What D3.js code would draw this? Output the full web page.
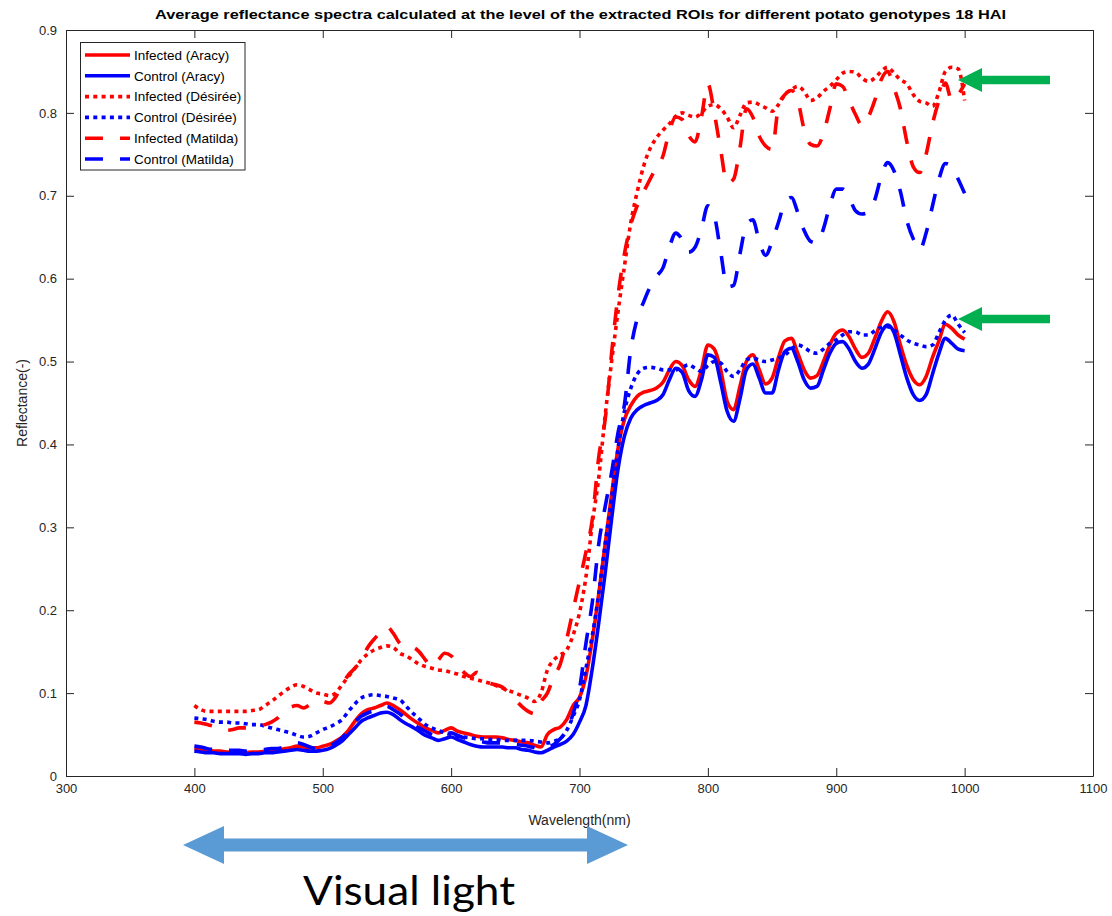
<!DOCTYPE html>
<html>
<head>
<meta charset="utf-8">
<script src="https://cdn.jsdelivr.net/npm/d3@7"></script>
<style>
body { margin: 0; background: #fff; }
</style>
</head>
<body>
<div id="chart"></div>
<script>
// wavelength grid (nm), 5 nm step
var wavelengths = d3.range(400, 1001, 5);

var infAracy = [
  0.033,0.032,0.031,0.030,0.030,0.029,0.029,0.028,0.028,0.029,0.029,0.030,0.031,0.031,0.033,0.034,0.036,0.035,0.034,0.034,
  0.036,0.038,0.042,0.047,0.055,0.066,0.075,0.080,0.082,0.085,0.088,0.085,0.080,0.074,0.068,0.063,0.058,0.055,0.052,0.055,
  0.058,0.054,0.052,0.050,0.048,0.047,0.047,0.047,0.046,0.044,0.043,0.041,0.040,0.037,0.035,0.050,0.056,0.059,0.068,0.085,
  0.095,0.120,0.165,0.220,0.280,0.340,0.395,0.430,0.447,0.458,0.463,0.465,0.468,0.475,0.490,0.500,0.495,0.478,0.470,0.490,
  0.520,0.515,0.490,0.452,0.442,0.470,0.500,0.508,0.490,0.473,0.480,0.505,0.525,0.528,0.510,0.490,0.480,0.483,0.500,0.520,
  0.534,0.538,0.530,0.515,0.505,0.510,0.528,0.548,0.560,0.548,0.520,0.495,0.478,0.472,0.482,0.505,0.525,0.545,0.540,0.532,
  0.527];

var ctrlAracy = [
  0.030,0.029,0.028,0.028,0.027,0.027,0.027,0.027,0.026,0.027,0.027,0.028,0.028,0.029,0.030,0.031,0.032,0.031,0.030,0.030,
  0.031,0.033,0.037,0.042,0.050,0.058,0.066,0.070,0.073,0.076,0.077,0.074,0.068,0.063,0.059,0.054,0.049,0.046,0.043,0.045,
  0.047,0.044,0.041,0.038,0.036,0.035,0.035,0.035,0.035,0.034,0.034,0.032,0.031,0.029,0.028,0.031,0.035,0.038,0.042,0.050,
  0.065,0.085,0.130,0.185,0.245,0.310,0.370,0.410,0.432,0.442,0.447,0.450,0.453,0.460,0.478,0.492,0.487,0.465,0.458,0.478,
  0.508,0.505,0.475,0.440,0.428,0.455,0.490,0.497,0.480,0.462,0.462,0.490,0.512,0.516,0.500,0.478,0.468,0.470,0.490,0.510,
  0.522,0.524,0.515,0.500,0.492,0.497,0.515,0.535,0.544,0.535,0.508,0.480,0.460,0.453,0.460,0.485,0.510,0.528,0.522,0.515,
  0.513];

var infDesiree = [
  0.085,0.080,0.078,0.078,0.078,0.078,0.078,0.078,0.078,0.079,0.080,0.085,0.090,0.096,0.102,0.107,0.110,0.108,0.104,0.100,
  0.099,0.097,0.100,0.110,0.120,0.130,0.140,0.147,0.152,0.155,0.157,0.155,0.148,0.145,0.140,0.135,0.132,0.130,0.128,0.127,
  0.125,0.123,0.120,0.118,0.116,0.114,0.112,0.109,0.106,0.103,0.100,0.097,0.094,0.090,0.100,0.128,0.140,0.146,0.152,0.170,
  0.197,0.240,0.305,0.360,0.435,0.500,0.560,0.615,0.668,0.705,0.736,0.757,0.770,0.779,0.787,0.796,0.800,0.797,0.795,0.800,
  0.808,0.810,0.805,0.795,0.782,0.797,0.812,0.813,0.810,0.806,0.802,0.810,0.822,0.828,0.832,0.826,0.815,0.818,0.826,0.832,
  0.840,0.848,0.850,0.849,0.842,0.838,0.842,0.850,0.855,0.848,0.840,0.835,0.822,0.814,0.812,0.808,0.825,0.850,0.855,0.853,
  0.815];

var ctrlDesiree = [
  0.070,0.069,0.068,0.066,0.065,0.065,0.064,0.064,0.063,0.062,0.062,0.060,0.058,0.056,0.054,0.052,0.049,0.047,0.048,0.052,
  0.056,0.059,0.063,0.068,0.078,0.087,0.094,0.097,0.098,0.097,0.096,0.094,0.092,0.084,0.076,0.069,0.062,0.058,0.055,0.052,
  0.050,0.048,0.047,0.046,0.045,0.045,0.044,0.044,0.043,0.043,0.043,0.043,0.043,0.042,0.041,0.040,0.042,0.045,0.055,0.072,
  0.092,0.130,0.170,0.220,0.280,0.335,0.395,0.440,0.468,0.485,0.492,0.493,0.492,0.490,0.490,0.490,0.493,0.496,0.492,0.488,
  0.495,0.500,0.498,0.488,0.482,0.490,0.502,0.504,0.502,0.500,0.502,0.504,0.508,0.515,0.520,0.517,0.512,0.510,0.515,0.522,
  0.526,0.532,0.536,0.536,0.532,0.532,0.537,0.541,0.542,0.538,0.532,0.526,0.522,0.520,0.518,0.520,0.535,0.550,0.556,0.545,
  0.535];

var infMatilda = [
  0.065,0.064,0.062,0.060,0.057,0.055,0.056,0.058,0.058,0.059,0.060,0.062,0.065,0.070,0.078,0.083,0.085,0.082,0.086,0.090,
  0.090,0.088,0.095,0.110,0.122,0.130,0.140,0.155,0.165,0.173,0.180,0.172,0.160,0.155,0.155,0.150,0.140,0.132,0.140,0.148,
  0.145,0.135,0.125,0.120,0.125,0.118,0.112,0.110,0.107,0.100,0.092,0.084,0.078,0.075,0.090,0.100,0.120,0.135,0.165,0.200,
  0.235,0.270,0.310,0.385,0.430,0.510,0.580,0.630,0.665,0.688,0.705,0.720,0.735,0.748,0.778,0.795,0.792,0.773,0.765,0.795,
  0.835,0.800,0.755,0.715,0.720,0.758,0.805,0.795,0.772,0.760,0.756,0.808,0.822,0.827,0.815,0.780,0.762,0.760,0.775,0.805,
  0.835,0.832,0.815,0.798,0.785,0.795,0.815,0.840,0.850,0.830,0.805,0.765,0.735,0.728,0.750,0.787,0.815,0.836,0.815,0.822,
  0.835];

var ctrlMatilda = [
  0.036,0.035,0.033,0.032,0.032,0.031,0.031,0.031,0.030,0.031,0.031,0.032,0.033,0.033,0.035,0.037,0.040,0.038,0.035,0.033,
  0.034,0.036,0.040,0.046,0.055,0.065,0.072,0.076,0.079,0.082,0.084,0.080,0.075,0.068,0.063,0.058,0.054,0.050,0.048,0.050,
  0.052,0.049,0.046,0.044,0.042,0.041,0.040,0.040,0.040,0.039,0.038,0.037,0.036,0.034,0.032,0.035,0.038,0.045,0.055,0.075,
  0.105,0.160,0.210,0.280,0.325,0.366,0.414,0.448,0.515,0.552,0.572,0.590,0.603,0.613,0.638,0.655,0.647,0.632,0.638,0.660,
  0.688,0.676,0.632,0.590,0.592,0.630,0.665,0.671,0.645,0.628,0.645,0.668,0.692,0.698,0.680,0.658,0.645,0.643,0.660,0.688,
  0.708,0.708,0.698,0.682,0.678,0.680,0.695,0.723,0.740,0.730,0.705,0.670,0.648,0.635,0.655,0.688,0.720,0.739,0.735,0.720,
  0.703];

var seriesNames = ["Infected (Aracy)", "Control (Aracy)", "Infected (D\u00e9sir\u00e9e)",
                   "Control (D\u00e9sir\u00e9e)", "Infected (Matilda)", "Control (Matilda)"];
var seriesValues = [infAracy, ctrlAracy, infDesiree, ctrlDesiree, infMatilda, ctrlMatilda];
var seriesColors = ["#ff0000", "#0000ff", "#ff0000", "#0000ff", "#ff0000", "#0000ff"];
var seriesDash = [null, null, "4,4.3", "4,4.3", "18,17", "18,17"];

var xTicks = [300, 400, 500, 600, 700, 800, 900, 1000, 1100];
var yTicks = [0, 0.1, 0.2, 0.3, 0.4, 0.5, 0.6, 0.7, 0.8, 0.9];

var svgW = 1112, svgH = 916;
var plotL = 66, plotR = 1093, plotT = 30, plotB = 776;
var axisColor = "#262626";
var font = "'Liberation Sans', Arial, Helvetica, sans-serif";

var svg = d3.select("#chart").append("svg")
  .attr("width", svgW)
  .attr("height", svgH)
  .style("display", "block");

var x = d3.scaleLinear().domain([300, 1100]).range([plotL, plotR]);
var y = d3.scaleLinear().domain([0, 0.9]).range([plotB, plotT]);

// spectra
var line = d3.line()
  .x(function(d) { return x(d[0]); })
  .y(function(d) { return y(d[1]); })
  .curve(d3.curveMonotoneX);

var plot = svg.append("g");
for (var s = 0; s < seriesValues.length; s++) {
  var pts = wavelengths.map(function(w, i) { return [w, seriesValues[s][i]]; });
  plot.append("path")
    .datum(pts)
    .attr("d", line)
    .attr("fill", "none")
    .attr("stroke", seriesColors[s])
    .attr("stroke-width", 3.6)
    .attr("stroke-linejoin", "round")
    .attr("stroke-dasharray", seriesDash[s]);
}

// axes (MATLAB style, ticks inside, box on)
function styleAxis(g) {
  g.selectAll("path, line").attr("stroke", axisColor);
  g.selectAll("text").attr("fill", axisColor)
    .style("font-family", font).style("font-size", "13px");
}

svg.append("g")
  .attr("transform", "translate(0," + plotB + ")")
  .call(d3.axisBottom(x).tickValues(xTicks).tickSizeInner(-8).tickSizeOuter(0).tickPadding(8)
    .tickFormat(d3.format("d")))
  .call(styleAxis);

svg.append("g")
  .attr("transform", "translate(0," + plotT + ")")
  .call(d3.axisTop(x).tickValues(xTicks).tickSizeInner(-8).tickSizeOuter(0).tickFormat(""))
  .call(styleAxis);

svg.append("g")
  .attr("transform", "translate(" + plotL + ",0)")
  .call(d3.axisLeft(y).tickValues(yTicks).tickSizeInner(-8).tickSizeOuter(0).tickPadding(9)
    .tickFormat(function(d) { return d === 0 ? "0" : d3.format(".1f")(d); }))
  .call(styleAxis);

svg.append("g")
  .attr("transform", "translate(" + plotR + ",0)")
  .call(d3.axisRight(y).tickValues(yTicks).tickSizeInner(-8).tickSizeOuter(0).tickFormat(""))
  .call(styleAxis);

// title and axis labels
svg.append("text")
  .attr("x", (plotL + plotR) / 2 + 1)
  .attr("y", 19)
  .attr("text-anchor", "middle")
  .attr("textLength", 851)
  .attr("lengthAdjust", "spacingAndGlyphs")
  .style("font-family", font)
  .style("font-size", "12.5px")
  .style("font-weight", "bold")
  .attr("fill", "#000")
  .text("Average reflectance spectra calculated at the level of the extracted ROIs for different potato genotypes 18 HAI");

svg.append("text")
  .attr("x", (plotL + plotR) / 2)
  .attr("y", 825)
  .attr("text-anchor", "middle")
  .style("font-family", font)
  .style("font-size", "14px")
  .attr("fill", axisColor)
  .text("Wavelength(nm)");

svg.append("text")
  .attr("transform", "translate(27," + ((plotT + plotB) / 2) + ") rotate(-90)")
  .attr("text-anchor", "middle")
  .style("font-family", font)
  .style("font-size", "14px")
  .attr("fill", axisColor)
  .text("Reflectance(-)");

// legend
var legend = svg.append("g");
legend.append("rect")
  .attr("x", 80.5).attr("y", 42.5)
  .attr("width", 164.5).attr("height", 127.5)
  .attr("fill", "#fff")
  .attr("stroke", axisColor)
  .attr("stroke-width", 1);

seriesNames.forEach(function(name, i) {
  var ly = 55 + i * 20.8;
  legend.append("line")
    .attr("x1", 85).attr("x2", 130)
    .attr("y1", ly).attr("y2", ly)
    .attr("stroke", seriesColors[i])
    .attr("stroke-width", 3.6)
    .attr("stroke-dasharray", seriesDash[i]);
  legend.append("text")
    .attr("x", 134)
    .attr("y", ly)
    .attr("dy", "0.36em")
    .style("font-family", font)
    .style("font-size", "13.5px")
    .attr("fill", "#000")
    .text(name);
});

// green annotation arrows
var green = "#00b050";
function leftArrow(tipX, cy, tailX) {
  var hl = 24, hh = 12, sh = 4.2;
  var pts = [[tipX, cy], [tipX + hl, cy - hh], [tipX + hl, cy - sh], [tailX, cy - sh],
             [tailX, cy + sh], [tipX + hl, cy + sh], [tipX + hl, cy + hh]];
  svg.append("polygon")
    .attr("points", pts.map(function(p) { return p.join(","); }).join(" "))
    .attr("fill", green);
}
leftArrow(958, 80, 1050);
leftArrow(958, 319, 1050);

// visual light double arrow
var blue = "#5b9bd5";
var ax0 = 183, ax1 = 628, acy = 845, ahl = 41, ahh = 19, ash = 6.5;
var dbl = [[ax0, acy], [ax0 + ahl, acy - ahh], [ax0 + ahl, acy - ash], [ax1 - ahl, acy - ash],
           [ax1 - ahl, acy - ahh], [ax1, acy], [ax1 - ahl, acy + ahh], [ax1 - ahl, acy + ash],
           [ax0 + ahl, acy + ash], [ax0 + ahl, acy + ahh]];
svg.append("polygon")
  .attr("points", dbl.map(function(p) { return p.join(","); }).join(" "))
  .attr("fill", blue);

svg.append("text")
  .attr("x", 409)
  .attr("y", 905)
  .attr("text-anchor", "middle")
  .attr("textLength", 212)
  .attr("lengthAdjust", "spacingAndGlyphs")
  .style("font-family", "Lato, 'Open Sans', sans-serif")
  .style("font-size", "40px")
  .attr("fill", "#000")
  .text("Visual light");
</script>
</body>
</html>
